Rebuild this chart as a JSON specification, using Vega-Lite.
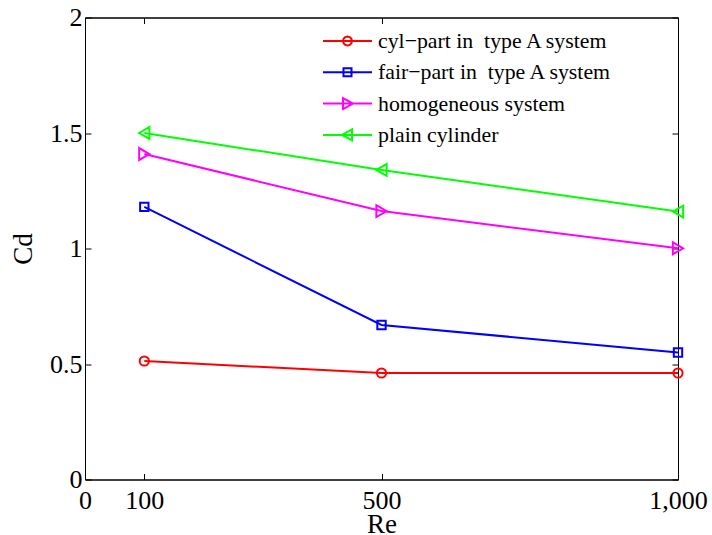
{
  "$schema": "https://vega.github.io/schema/vega-lite/v6.json",
  "width": 593,
  "height": 462,
  "autosize": "none",
  "padding": {"left": 85, "top": 17.5, "right": 34, "bottom": 55.5},
  "background": "white",
  "config": {
    "font": "Liberation Serif",
    "view": {"stroke": "black", "strokeWidth": 1},
    "axis": {
      "grid": false,
      "domainColor": "black",
      "domainWidth": 1,
      "tickColor": "black",
      "tickSize": -6,
      "tickWidth": 1,
      "labelFlush": false,
      "labelOverlap": false,
      "labelFont": "Liberation Serif",
      "labelFontSize": 26,
      "labelColor": "black",
      "titleFont": "Liberation Serif",
      "titleFontSize": 27,
      "titleFontWeight": "normal",
      "titleColor": "black"
    },
    "legend": {
      "orient": "none",
      "legendX": 238,
      "legendY": 12.5,
      "padding": 0,
      "symbolSize": 400,
      "symbolStrokeWidth": 2,
      "symbolFillColor": "transparent",
      "labelFont": "Liberation Serif",
      "labelFontSize": 21.8,
      "labelColor": "black",
      "labelOffset": 33,
      "labelLimit": 400,
      "rowPadding": 8.3,
      "title": null
    }
  },
  "data": {
    "values": [
      {"series": "cyl−part in \u00a0type A system", "Re": 100, "Cd": 0.513},
      {"series": "cyl−part in \u00a0type A system", "Re": 500, "Cd": 0.461},
      {"series": "cyl−part in \u00a0type A system", "Re": 1000, "Cd": 0.461},
      {"series": "fair−part in \u00a0type A system", "Re": 100, "Cd": 1.18},
      {"series": "fair−part in \u00a0type A system", "Re": 500, "Cd": 0.669},
      {"series": "fair−part in \u00a0type A system", "Re": 1000, "Cd": 0.55},
      {"series": "homogeneous system", "Re": 100, "Cd": 1.409},
      {"series": "homogeneous system", "Re": 500, "Cd": 1.162},
      {"series": "homogeneous system", "Re": 1000, "Cd": 1.001},
      {"series": "plain cylinder", "Re": 100, "Cd": 1.5},
      {"series": "plain cylinder", "Re": 500, "Cd": 1.34},
      {"series": "plain cylinder", "Re": 1000, "Cd": 1.16}
    ]
  },
  "resolve": {"axis": {"x": "independent", "y": "independent"}},
  "layer": [
    {
      "mark": {"type": "line", "strokeWidth": 2},
      "encoding": {
        "x": {
          "field": "Re", "type": "quantitative",
          "scale": {"domain": [0, 1000], "nice": false},
          "axis": {"orient": "bottom", "values": [0, 100, 500, 1000], "labelExpr": "format(datum.value, ',')", "labelPadding": 14, "title": "Re", "titleBaseline": "alphabetic", "titleY": 52.5}
        },
        "y": {
          "field": "Cd", "type": "quantitative",
          "scale": {"domain": [0, 2], "nice": false},
          "axis": {"orient": "left", "values": [0, 0.5, 1, 1.5, 2], "labelExpr": "format(datum.value, '~g')", "labelPadding": 9, "title": "Cd", "titlePadding": 12}
        },
        "color": {
          "field": "series", "type": "nominal",
          "scale": {
            "domain": ["cyl−part in \u00a0type A system", "fair−part in \u00a0type A system", "homogeneous system", "plain cylinder"],
            "range": ["#ff0000", "#0000ff", "#ff00ff", "#00ff00"]
          },
          "legend": {
            "encode": {
              "symbols": {
                "update": {
                  "shape": {"signal": "datum.value == 'homogeneous system' ? 'M-1.1,0L3.8,0M0.9,-0.55L1.9,0L0.9,0.55Z' : datum.value == 'plain cylinder' ? 'M-1.1,0L3.8,0M1.8,-0.55L0.8,0L1.8,0.55Z' : datum.value == 'fair−part in \u00a0type A system' ? 'M-1.1,0L3.8,0M0.95,-0.4L1.75,-0.4L1.75,0.4L0.95,0.4Z' : 'M-1.1,0L3.8,0M1.8,0L1.74,0.225L1.575,0.39L1.35,0.45L1.125,0.39L0.96,0.225L0.9,0L0.96,-0.225L1.125,-0.39L1.35,-0.45L1.575,-0.39L1.74,-0.225Z'"},
                  "fill": {"value": "transparent"}
                }
              }
            }
          }
        }
      }
    },
    {
      "transform": [{"filter": {"field": "series", "equal": "cyl−part in \u00a0type A system"}}],
      "mark": {"type": "point", "shape": "circle", "size": 85, "filled": false, "strokeWidth": 2, "opacity": 1},
      "encoding": {
        "x": {
          "field": "Re", "type": "quantitative",
          "axis": {"orient": "top", "values": [0, 100, 500, 1000], "labels": false, "title": null}
        },
        "y": {
          "field": "Cd", "type": "quantitative",
          "axis": {"orient": "right", "values": [0, 0.5, 1, 1.5, 2], "labels": false, "title": null}
        },
        "color": {
          "field": "series", "type": "nominal",
          "legend": {
            "encode": {
              "symbols": {
                "update": {
                  "shape": {"signal": "datum.value == 'homogeneous system' ? 'M-1.1,0L3.8,0M0.9,-0.55L1.9,0L0.9,0.55Z' : datum.value == 'plain cylinder' ? 'M-1.1,0L3.8,0M1.8,-0.55L0.8,0L1.8,0.55Z' : datum.value == 'fair−part in \u00a0type A system' ? 'M-1.1,0L3.8,0M0.95,-0.4L1.75,-0.4L1.75,0.4L0.95,0.4Z' : 'M-1.1,0L3.8,0M1.8,0L1.74,0.225L1.575,0.39L1.35,0.45L1.125,0.39L0.96,0.225L0.9,0L0.96,-0.225L1.125,-0.39L1.35,-0.45L1.575,-0.39L1.74,-0.225Z'"},
                  "fill": {"value": "transparent"}
                }
              }
            }
          }
        }
      }
    },
    {
      "transform": [{"filter": {"field": "series", "equal": "fair−part in \u00a0type A system"}}],
      "mark": {"type": "point", "shape": "square", "size": 70, "filled": false, "strokeWidth": 2, "opacity": 1},
      "encoding": {
        "x": {"field": "Re", "type": "quantitative", "axis": null},
        "y": {"field": "Cd", "type": "quantitative", "axis": null},
        "color": {
          "field": "series", "type": "nominal",
          "legend": {
            "encode": {
              "symbols": {
                "update": {
                  "shape": {"signal": "datum.value == 'homogeneous system' ? 'M-1.1,0L3.8,0M0.9,-0.55L1.9,0L0.9,0.55Z' : datum.value == 'plain cylinder' ? 'M-1.1,0L3.8,0M1.8,-0.55L0.8,0L1.8,0.55Z' : datum.value == 'fair−part in \u00a0type A system' ? 'M-1.1,0L3.8,0M0.95,-0.4L1.75,-0.4L1.75,0.4L0.95,0.4Z' : 'M-1.1,0L3.8,0M1.8,0L1.74,0.225L1.575,0.39L1.35,0.45L1.125,0.39L0.96,0.225L0.9,0L0.96,-0.225L1.125,-0.39L1.35,-0.45L1.575,-0.39L1.74,-0.225Z'"},
                  "fill": {"value": "transparent"}
                }
              }
            }
          }
        }
      }
    },
    {
      "transform": [{"filter": {"field": "series", "equal": "homogeneous system"}}],
      "mark": {"type": "point", "shape": "triangle-right", "size": 140, "filled": false, "strokeWidth": 2, "opacity": 1},
      "encoding": {
        "x": {"field": "Re", "type": "quantitative", "axis": null},
        "y": {"field": "Cd", "type": "quantitative", "axis": null},
        "color": {
          "field": "series", "type": "nominal",
          "legend": {
            "encode": {
              "symbols": {
                "update": {
                  "shape": {"signal": "datum.value == 'homogeneous system' ? 'M-1.1,0L3.8,0M0.9,-0.55L1.9,0L0.9,0.55Z' : datum.value == 'plain cylinder' ? 'M-1.1,0L3.8,0M1.8,-0.55L0.8,0L1.8,0.55Z' : datum.value == 'fair−part in \u00a0type A system' ? 'M-1.1,0L3.8,0M0.95,-0.4L1.75,-0.4L1.75,0.4L0.95,0.4Z' : 'M-1.1,0L3.8,0M1.8,0L1.74,0.225L1.575,0.39L1.35,0.45L1.125,0.39L0.96,0.225L0.9,0L0.96,-0.225L1.125,-0.39L1.35,-0.45L1.575,-0.39L1.74,-0.225Z'"},
                  "fill": {"value": "transparent"}
                }
              }
            }
          }
        }
      }
    },
    {
      "transform": [{"filter": {"field": "series", "equal": "plain cylinder"}}],
      "mark": {"type": "point", "shape": "triangle-left", "size": 140, "filled": false, "strokeWidth": 2, "opacity": 1},
      "encoding": {
        "x": {"field": "Re", "type": "quantitative", "axis": null},
        "y": {"field": "Cd", "type": "quantitative", "axis": null},
        "color": {
          "field": "series", "type": "nominal",
          "legend": {
            "encode": {
              "symbols": {
                "update": {
                  "shape": {"signal": "datum.value == 'homogeneous system' ? 'M-1.1,0L3.8,0M0.9,-0.55L1.9,0L0.9,0.55Z' : datum.value == 'plain cylinder' ? 'M-1.1,0L3.8,0M1.8,-0.55L0.8,0L1.8,0.55Z' : datum.value == 'fair−part in \u00a0type A system' ? 'M-1.1,0L3.8,0M0.95,-0.4L1.75,-0.4L1.75,0.4L0.95,0.4Z' : 'M-1.1,0L3.8,0M1.8,0L1.74,0.225L1.575,0.39L1.35,0.45L1.125,0.39L0.96,0.225L0.9,0L0.96,-0.225L1.125,-0.39L1.35,-0.45L1.575,-0.39L1.74,-0.225Z'"},
                  "fill": {"value": "transparent"}
                }
              }
            }
          }
        }
      }
    }
  ]
}
